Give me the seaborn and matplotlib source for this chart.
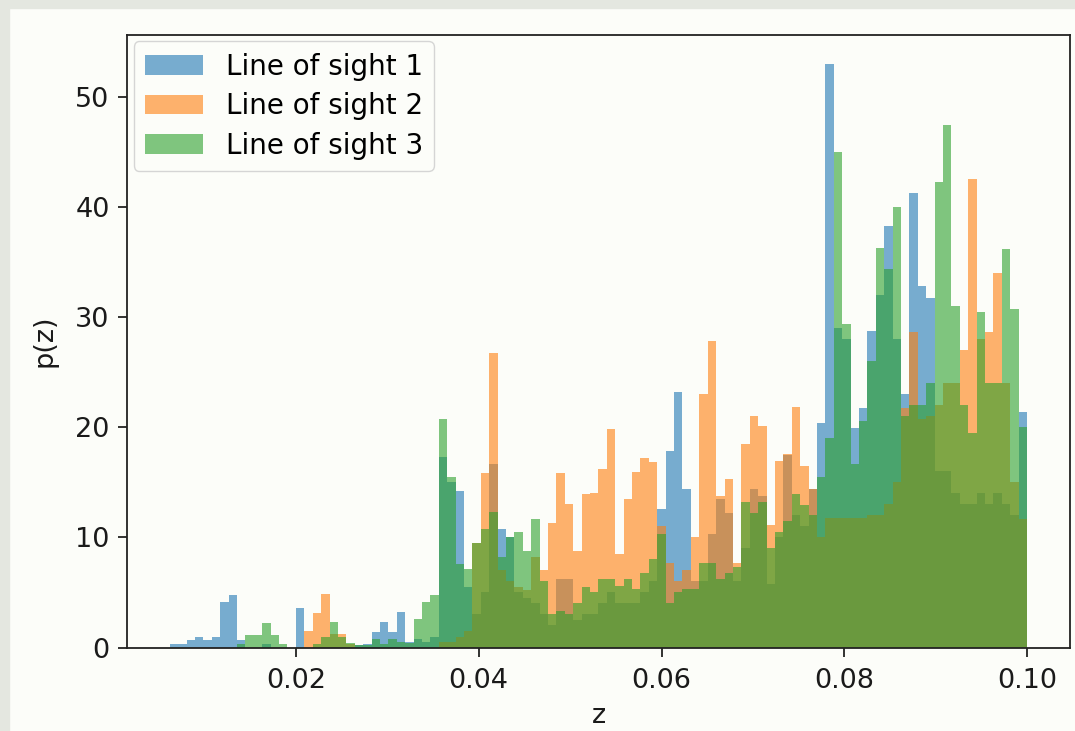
import numpy as np
import matplotlib
matplotlib.use("Agg")
import matplotlib.pyplot as plt
import seaborn as sns
from matplotlib.patches import Rectangle, Patch

# ---- data (bar heights of p(z), one value per bin) ----
z_min, z_max, n_bins = 0.0062, 0.100, 102

los1 = [0.3, 0.3, 0.7, 1.0, 0.7, 1.0, 4.1, 4.8, 0.7, 0.0,
        0.0, 0.3, 0.0, 0.0, 0.0, 3.6, 0.0, 0.0, 0.0, 0.0,
        0.0, 0.0, 0.2, 0.3, 1.4, 2.3, 1.4, 3.2, 0.5, 0.8,
        0.5, 1.0, 17.3, 15.0, 14.2, 5.5, 3.0, 5.0, 16.7, 10.8,
        10.0, 5.0, 4.5, 4.0, 3.0, 2.0, 6.2, 6.2, 2.5, 3.0,
        3.0, 4.0, 5.0, 4.0, 4.0, 4.0, 5.0, 6.0, 12.6, 17.8,
        23.2, 14.4, 6.0, 6.0, 10.3, 13.5, 12.2, 6.0, 9.0, 14.4,
        13.8, 5.8, 10.0, 17.5, 12.0, 11.0, 14.4, 20.4, 53.0, 29.0,
        28.0, 19.9, 21.7, 28.7, 32.0, 38.3, 28.0, 23.0, 41.3, 32.8,
        31.7, 16.0, 16.0, 14.0, 13.0, 13.0, 14.0, 13.0, 14.0, 13.0,
        12.0, 21.4]

los2 = [0.0, 0.0, 0.0, 0.0, 0.0, 0.0, 0.0, 0.0, 0.0, 0.0,
        0.0, 0.0, 0.0, 0.0, 0.0, 0.0, 1.5, 3.1, 4.9, 1.2,
        1.2, 0.3, 0.0, 0.0, 0.0, 0.0, 0.0, 0.0, 0.0, 0.0,
        0.0, 0.0, 0.5, 0.5, 1.0, 1.5, 9.5, 15.8, 26.7, 7.0,
        6.0, 5.5, 5.2, 8.2, 7.0, 11.3, 15.8, 13.0, 8.8, 13.9,
        14.0, 16.2, 19.8, 8.5, 13.5, 15.9, 17.2, 16.8, 11.0, 7.7,
        6.0, 7.0, 10.0, 23.0, 27.8, 13.8, 15.3, 7.7, 18.5, 21.0,
        20.1, 11.1, 16.9, 17.6, 21.8, 16.5, 14.4, 10.0, 11.8, 11.8,
        11.8, 11.8, 11.8, 12.0, 12.0, 13.0, 15.0, 21.7, 28.6, 20.7,
        21.0, 22.0, 24.0, 24.0, 27.0, 42.5, 28.0, 28.6, 34.0, 24.0,
        15.0, 11.7]

los3 = [0.0, 0.0, 0.0, 0.0, 0.0, 0.0, 0.0, 0.0, 0.3, 1.1,
        1.1, 2.2, 1.1, 0.3, 0.0, 0.0, 0.0, 0.3, 1.0, 2.3,
        1.0, 0.4, 0.2, 0.2, 0.8, 0.3, 0.8, 0.5, 0.4, 2.6,
        4.1, 4.8, 20.7, 15.5, 7.6, 7.1, 9.5, 10.8, 12.3, 8.2,
        10.0, 10.5, 8.8, 11.7, 6.0, 3.0, 3.3, 3.0, 4.0, 5.5,
        5.0, 6.2, 6.2, 5.6, 6.2, 5.3, 6.8, 8.0, 10.3, 4.0,
        5.0, 5.3, 5.3, 7.7, 7.7, 6.2, 6.8, 7.3, 13.2, 12.2,
        13.2, 9.0, 10.5, 11.5, 13.9, 12.9, 12.0, 15.5, 19.0, 45.0,
        29.4, 16.7, 20.6, 26.0, 36.3, 34.4, 40.0, 21.0, 22.0, 22.0,
        24.0, 42.3, 47.4, 31.0, 22.0, 19.5, 30.5, 24.0, 24.0, 36.2,
        30.7, 20.0]

labels = ["Line of sight 1", "Line of sight 2", "Line of sight 3"]
colors = ["#1f77b4", "#ff7f0e", "#2ca02c"]

edges = np.linspace(z_min, z_max, n_bins + 1)
centers = (edges[:-1] + edges[1:]) / 2

plt.rcParams['font.family'] = ['DejaVu Sans']
bg = '#fcfdf9'
alpha = 0.6
fig = plt.figure(figsize=(10.75, 7.31), dpi=100, facecolor=bg)
ax = fig.add_axes([0.1181, 0.1142, 0.8772, 0.8386], facecolor=bg)

for vals, lab, col in zip([los1, los2, los3], labels, colors):
    sns.histplot(x=centers, weights=np.asarray(vals), bins=n_bins,
                 binrange=(z_min, z_max), stat='count',
                 color=col, alpha=alpha, linewidth=0, edgecolor='none', ax=ax)

ax.set_xlabel('z', fontsize=19.5, labelpad=7, color='#1a1a1a')
ax.set_ylabel('p(z)', fontsize=19.5, labelpad=12.5, color='#1a1a1a')
ax.tick_params(axis='both', labelsize=19.5, length=6.5, width=1.3,
               color='#222222', labelcolor='#1a1a1a')
ax.tick_params(axis='x', pad=8)
ax.tick_params(axis='y', pad=6)
for s in ax.spines.values():
    s.set_linewidth(1.3)
    s.set_color('#222222')

handles = [Patch(facecolor=c, alpha=alpha, edgecolor='none') for c in colors]
leg = ax.legend(handles, labels, loc='upper left', fontsize=20,
                borderaxespad=0.25, handlelength=2.1, labelspacing=0.42,
                framealpha=0.8)
leg.get_frame().set_facecolor(bg)

# light grey frame of the original screenshot (left and top)
fig.patches.append(Rectangle((0, 0), 9 / 1075, 1, transform=fig.transFigure,
                             color='#e4e7e0', zorder=-1))
fig.patches.append(Rectangle((0, 1 - 8 / 731), 1, 8 / 731, transform=fig.transFigure,
                             color='#e4e7e0', zorder=-1))

fig.savefig('out.png', dpi=100, facecolor=bg)
